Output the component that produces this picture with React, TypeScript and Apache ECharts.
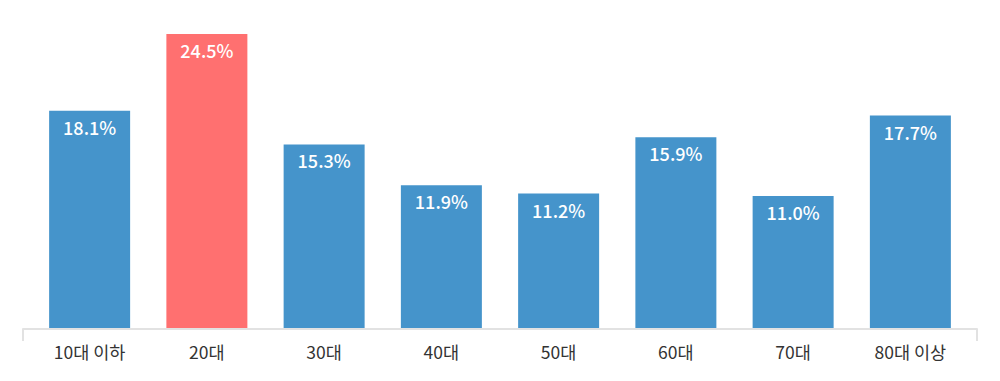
import React, { useEffect, useRef } from "react";
import * as echarts from "echarts";

const categories = ["10대 이하", "20대", "30대", "40대", "50대", "60대", "70대", "80대 이상"];
const values = [18.1, 24.5, 15.3, 11.9, 11.2, 15.9, 11.0, 17.7];
const highlightIndex = 1;

const BLUE = "#4594cb";
const RED = "#ff7070";
const FONT = "'Noto Sans CJK KR', 'Noto Sans', sans-serif";

export default function App() {
  const ref = useRef<HTMLDivElement>(null);
  useEffect(() => {
    document.body.style.margin = "0";
    const chart = echarts.init(ref.current!, null, { renderer: "svg" });
    chart.setOption({
      animation: false,
      grid: [
        { left: 31, right: 31, top: 16, bottom: 53 },
        { left: 23, right: 23, top: 16, bottom: 52 },
      ],
      xAxis: [
        {
          type: "category",
          gridIndex: 0,
          data: categories,
          axisLine: { show: false },
          axisTick: { show: false },
          axisLabel: { color: "#333", fontSize: 17.5, fontFamily: FONT, margin: 15 },
        },
        {
          type: "value",
          gridIndex: 1,
          min: 0,
          max: 1,
          interval: 1,
          axisLine: { show: true, lineStyle: { color: "#e2e2e2", width: 2 } },
          axisTick: { show: true, length: 12, lineStyle: { color: "#e2e2e2", width: 2 } },
          axisLabel: { show: false },
          splitLine: { show: false },
        },
      ],
      yAxis: [
        { type: "value", gridIndex: 0, min: 0, max: 26, show: false, splitLine: { show: false } },
        { type: "value", gridIndex: 1, min: 0, max: 1, show: false, splitLine: { show: false } },
      ],
      series: [
        {
          type: "bar",
          xAxisIndex: 0,
          yAxisIndex: 0,
          barWidth: 81,
          data: values.map((v, i) => ({
            value: v,
            itemStyle: { color: i === highlightIndex ? RED : BLUE },
          })),
          label: {
            show: true,
            position: "insideTop",
            distance: 7,
            color: "#fff",
            fontSize: 18,
            fontWeight: 500,
            fontFamily: FONT,
            formatter: (p: any) => Number(p.value).toFixed(1) + "%",
          },
        },
      ],
    });
    return () => chart.dispose();
  }, []);
  return <div ref={ref} style={{ width: 1000, height: 381 }} />;
}
